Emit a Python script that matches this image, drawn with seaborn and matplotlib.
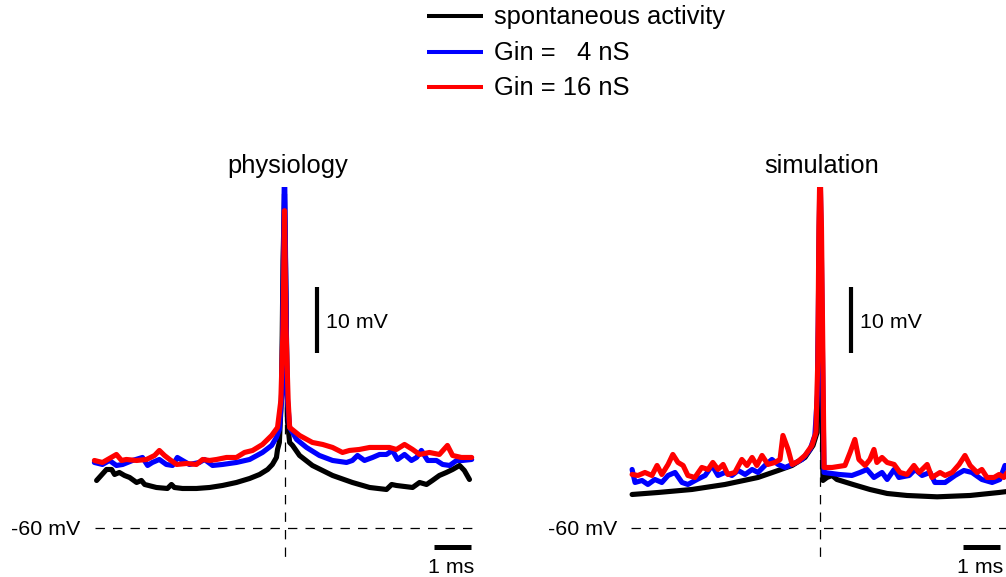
import matplotlib
matplotlib.use("Agg")
import matplotlib.pyplot as plt
from matplotlib.lines import Line2D
import seaborn as sns
import pandas as pd

# ---------------- data (time in ms relative to spike, membrane potential in mV) -------------
phys_black_t = [-5.12, -4.85, -4.71, -4.63, -4.50, -4.36, -4.22, -4.03, -3.90, -3.81, -3.49, -3.19, -3.08,
                -3.00, -2.78, -2.40, -2.04, -1.69, -1.31, -0.95, -0.68, -0.46, -0.33, -0.22, -0.19, -0.14,
                -0.08, -0.04, 0.0, 0.04, 0.08, 0.14, 0.22, 0.41, 0.76, 1.31, 1.85, 2.32, 2.78, 2.92, 3.05,
                3.49, 3.68, 3.87, 4.03, 4.22, 4.41, 4.58, 4.77, 4.90, 5.04]
phys_black_v = [-52.95, -51.3, -51.3, -52.05, -51.75, -52.2, -52.5, -53.25, -52.95, -53.55, -54.0, -54.15,
                -53.55, -54.0, -54.15, -54.15, -54.0, -53.7, -53.25, -52.65, -52.05, -51.3, -50.55, -49.5,
                -48.3, -47.25, -40.0, -20.0, -10.0, -25.0, -44.0, -47.25, -47.7, -49.2, -50.7, -52.2, -53.25,
                -54.0, -54.3, -53.55, -53.7, -54.0, -53.25, -53.55, -52.95, -52.2, -51.75, -51.3, -50.7,
                -51.45, -52.8]

phys_blue_t = [-5.18, -4.96, -4.77, -4.58, -4.41, -4.14, -3.87, -3.73, -3.60, -3.41, -3.22, -3.05, -2.92,
               -2.78, -2.59, -2.32, -2.18, -1.96, -1.69, -1.31, -0.95, -0.60, -0.35, -0.22, -0.14, -0.07,
               -0.03, 0.0, 0.03, 0.07, 0.14, 0.33, 0.60, 0.95, 1.31, 1.69, 1.85, 1.99, 2.18, 2.40, 2.59,
               2.78, 2.94, 3.08, 3.27, 3.46, 3.60, 3.73, 3.90, 4.14, 4.31, 4.50, 4.69, 4.85, 5.10]
phys_blue_v = [-50.25, -50.55, -49.95, -50.7, -50.55, -49.95, -49.5, -50.7, -50.25, -49.8, -50.55, -50.7,
               -49.5, -49.95, -50.55, -50.25, -49.8, -50.7, -50.55, -50.25, -49.8, -48.75, -47.7, -46.5,
               -45.3, -40.0, -20.0, -5.0, -20.0, -40.0, -45.0, -46.8, -48.0, -49.2, -49.95, -50.25, -49.95,
               -49.2, -49.95, -49.5, -49.05, -49.05, -48.45, -49.8, -49.05, -49.95, -49.5, -48.45, -49.95,
               -49.95, -50.55, -50.7, -49.95, -49.95, -49.8]

phys_red_t = [-5.18, -4.96, -4.58, -4.44, -4.31, -4.03, -3.76, -3.54, -3.41, -3.27, -3.13, -2.94, -2.67,
              -2.40, -2.23, -2.04, -1.85, -1.58, -1.31, -1.09, -0.87, -0.60, -0.35, -0.19, -0.10, -0.04,
              0.0, 0.04, 0.10, 0.14, 0.41, 0.76, 1.04, 1.31, 1.58, 1.77, 2.04, 2.32, 2.59, 2.86, 3.05,
              3.27, 3.49, 3.68, 3.95, 4.22, 4.44, 4.58, 4.82, 5.10]
phys_red_v = [-49.95, -50.25, -49.05, -49.95, -49.8, -49.95, -49.8, -49.2, -48.45, -49.2, -49.8, -50.55,
              -50.4, -50.55, -49.8, -49.95, -49.8, -49.5, -49.5, -48.75, -48.45, -47.55, -46.2, -45.0,
              -41.0, -30.0, -12.5, -30.0, -41.0, -45.0, -46.2, -47.25, -47.55, -48.0, -48.75, -48.45,
              -48.3, -48.0, -48.0, -48.0, -48.3, -47.55, -48.3, -49.05, -48.75, -49.05, -47.7, -49.2,
              -49.5, -49.5]

sim_black_t = [-5.12, -4.41, -3.49, -2.59, -1.69, -1.14, -0.76, -0.41, -0.19, -0.08, -0.04, 0.0, 0.04, 0.08,
               0.19, 0.33, 0.46, 0.90, 1.36, 1.83, 2.37, 3.19, 4.09, 4.88, 5.10]
sim_black_v = [-55.05, -54.75, -54.3, -53.55, -52.5, -51.45, -50.7, -49.5, -47.7, -45.75, -30.0, -5.0,
               -30.0, -52.95, -52.5, -52.2, -52.8, -53.55, -54.3, -54.9, -55.2, -55.4, -55.2, -54.75, -54.6]

sim_blue_t = [-5.12, -5.04, -4.85, -4.69, -4.50, -4.31, -4.14, -3.95, -3.76, -3.60, -3.35, -3.13, -2.94,
              -2.78, -2.59, -2.40, -2.23, -2.04, -1.85, -1.69, -1.50, -1.31, -1.14, -0.95, -0.76, -0.49,
              -0.27, -0.14, -0.07, -0.03, 0.0, 0.04, 0.08, 0.11, 0.52, 0.87, 1.09, 1.28, 1.47, 1.69, 1.83,
              2.02, 2.15, 2.43, 2.59, 2.78, 3.00, 3.13, 3.41, 3.68, 3.92, 4.14, 4.41, 4.69, 4.90, 5.04]
sim_blue_v = [-51.3, -53.25, -52.95, -53.55, -52.8, -53.25, -52.2, -51.75, -53.25, -53.55, -52.8, -52.2,
              -50.7, -52.2, -51.75, -52.2, -51.45, -52.05, -51.3, -51.75, -50.7, -49.8, -50.55, -51.0,
              -50.55, -49.8, -48.3, -46.2, -40.0, -20.0, -5.0, -20.0, -40.0, -51.75, -52.05, -52.2, -51.75,
              -51.3, -52.5, -51.75, -52.8, -51.3, -52.5, -52.2, -51.3, -52.2, -51.75, -53.25, -53.25,
              -52.2, -51.45, -51.75, -52.8, -53.25, -52.8, -50.7]

sim_red_t = [-5.12, -4.96, -4.77, -4.58, -4.44, -4.31, -4.14, -4.01, -3.87, -3.73, -3.60, -3.41, -3.22,
             -3.05, -2.92, -2.78, -2.64, -2.51, -2.32, -2.13, -1.99, -1.85, -1.72, -1.58, -1.42, -1.23,
             -1.09, -1.01, -0.87, -0.76, -0.60, -0.41, -0.22, -0.11, -0.06, -0.03, 0.0, 0.04, 0.08, 0.11,
             0.33, 0.68, 0.82, 0.95, 1.06, 1.23, 1.36, 1.47, 1.55, 1.69, 1.83, 2.02, 2.18, 2.37, 2.56,
             2.70, 2.92, 3.05, 3.27, 3.41, 3.60, 3.79, 3.95, 4.09, 4.28, 4.41, 4.55, 4.74, 4.88, 5.01, 5.10]
sim_red_v = [-52.05, -52.2, -51.75, -52.2, -50.7, -52.05, -50.55, -49.05, -50.25, -50.7, -52.2, -52.5,
             -51.0, -51.3, -50.25, -51.3, -50.55, -52.05, -51.75, -49.8, -50.7, -49.5, -50.7, -49.2,
             -50.55, -50.25, -49.8, -46.2, -48.3, -50.55, -50.1, -49.2, -47.7, -45.75, -35.0, -15.0,
             -5.0, -15.0, -35.0, -51.0, -51.0, -50.7, -48.75, -46.8, -49.8, -50.7, -49.8, -48.3, -50.25,
             -49.5, -50.25, -50.55, -51.75, -52.05, -50.7, -51.75, -50.55, -52.5, -51.75, -52.2, -51.75,
             -50.55, -49.2, -50.7, -51.75, -51.3, -52.5, -52.5, -52.05, -52.5, -51.75]

series_labels = ["spontaneous activity", "Gin =   4 nS", "Gin = 16 nS"]
panel_titles = ["physiology", "simulation"]
rest_level = -60.0          # mV, dashed reference
scale_mv = 10.0             # vertical scale bar
scale_ms = 1.0              # horizontal scale bar

# ---------------- styling ----------------
sns.set_style("white")
plt.rcParams["font.family"] = ["Liberation Sans", "DejaVu Sans"]
plt.rcParams["text.color"] = "black"
FS = 18.4      # legend / titles
FS2 = 15.4     # scale-bar annotations
colors = ["#000000", "#0000FF", "#FF0000"]

W, H = 1006, 577
fig = plt.figure(figsize=(W / 100, H / 100), dpi=100)

PX_MS = 36.7
PX_MV = 6.67
Y_REST = 527.5   # pixel row of -60 mV
Y_TOP = 187.0
XL = 5.3


def px(x, y):
    return x / W, 1 - y / H


def make_axes(x0):
    left = (x0 - XL * PX_MS) / W
    width = 2 * XL * PX_MS / W
    ax = fig.add_axes([left, 0.0, width, (H - Y_TOP) / H])
    ax.set_xlim(-XL, XL)
    ax.set_ylim(rest_level - (H - Y_REST) / PX_MV, rest_level + (Y_REST - Y_TOP) / PX_MV)
    ax.axis("off")
    return ax


def draw_panel(ax, traces, x_end, vbar_t, hbar_t0):
    dash = (0, (7.5, 6.5))
    ax.plot([-5.16, x_end], [rest_level, rest_level], color="black", lw=0.9, ls=dash, zorder=1)
    ax.plot([0, 0], [-42, -65.2], color="black", lw=0.9, ls=dash, zorder=1)
    for (t, v), c in zip(traces, colors):
        df = pd.DataFrame({"t": t, "v": v})
        sns.lineplot(data=df, x="t", y="v", ax=ax, color=c, lw=3.7, estimator=None,
                     sort=False, zorder=3)
    # scale bars
    ax.plot([vbar_t, vbar_t], [-33.9, -33.9 + scale_mv], color="black", lw=3.0,
            solid_capstyle="butt", zorder=4)
    ax.plot([hbar_t0, hbar_t0 + scale_ms], [-62.9, -62.9], color="black", lw=3.6,
            solid_capstyle="butt", zorder=4)
    ax.axis("off")


ax1 = make_axes(284.5)
draw_panel(ax1, [(phys_black_t, phys_black_v), (phys_blue_t, phys_blue_v), (phys_red_t, phys_red_v)],
           5.11, 0.89, 4.07)
ax2 = make_axes(820.0)
draw_panel(ax2, [(sim_black_t, sim_black_v), (sim_blue_t, sim_blue_v), (sim_red_t, sim_red_v)],
           5.3, 0.845, 3.90)

# texts
fig.text(*px(288, 173), panel_titles[0], fontsize=FS, ha="center", va="baseline")
fig.text(*px(822, 173), panel_titles[1], fontsize=FS, ha="center", va="baseline")
fig.text(*px(80, 535), "-60 mV", fontsize=FS2, ha="right", va="baseline")
fig.text(*px(617, 535), "-60 mV", fontsize=FS2, ha="right", va="baseline")
fig.text(*px(326, 328), "10 mV", fontsize=FS2, ha="left", va="baseline")
fig.text(*px(860, 328), "10 mV", fontsize=FS2, ha="left", va="baseline")
fig.text(*px(451, 573), "1 ms", fontsize=FS2, ha="center", va="baseline")
fig.text(*px(980, 573), "1 ms", fontsize=FS2, ha="center", va="baseline")

# legend
for i, (lab, c) in enumerate(zip(series_labels, colors)):
    yl = 16 + 35.6 * i
    x0, y0 = px(427, yl)
    x1, _ = px(483, yl)
    fig.add_artist(Line2D([x0, x1], [y0, y0], color=c, lw=2.9, transform=fig.transFigure,
                          solid_capstyle="butt"))
    fig.text(*px(494, yl + 8), lab, fontsize=FS, ha="left", va="baseline")

fig.savefig("out.png", dpi=100)
